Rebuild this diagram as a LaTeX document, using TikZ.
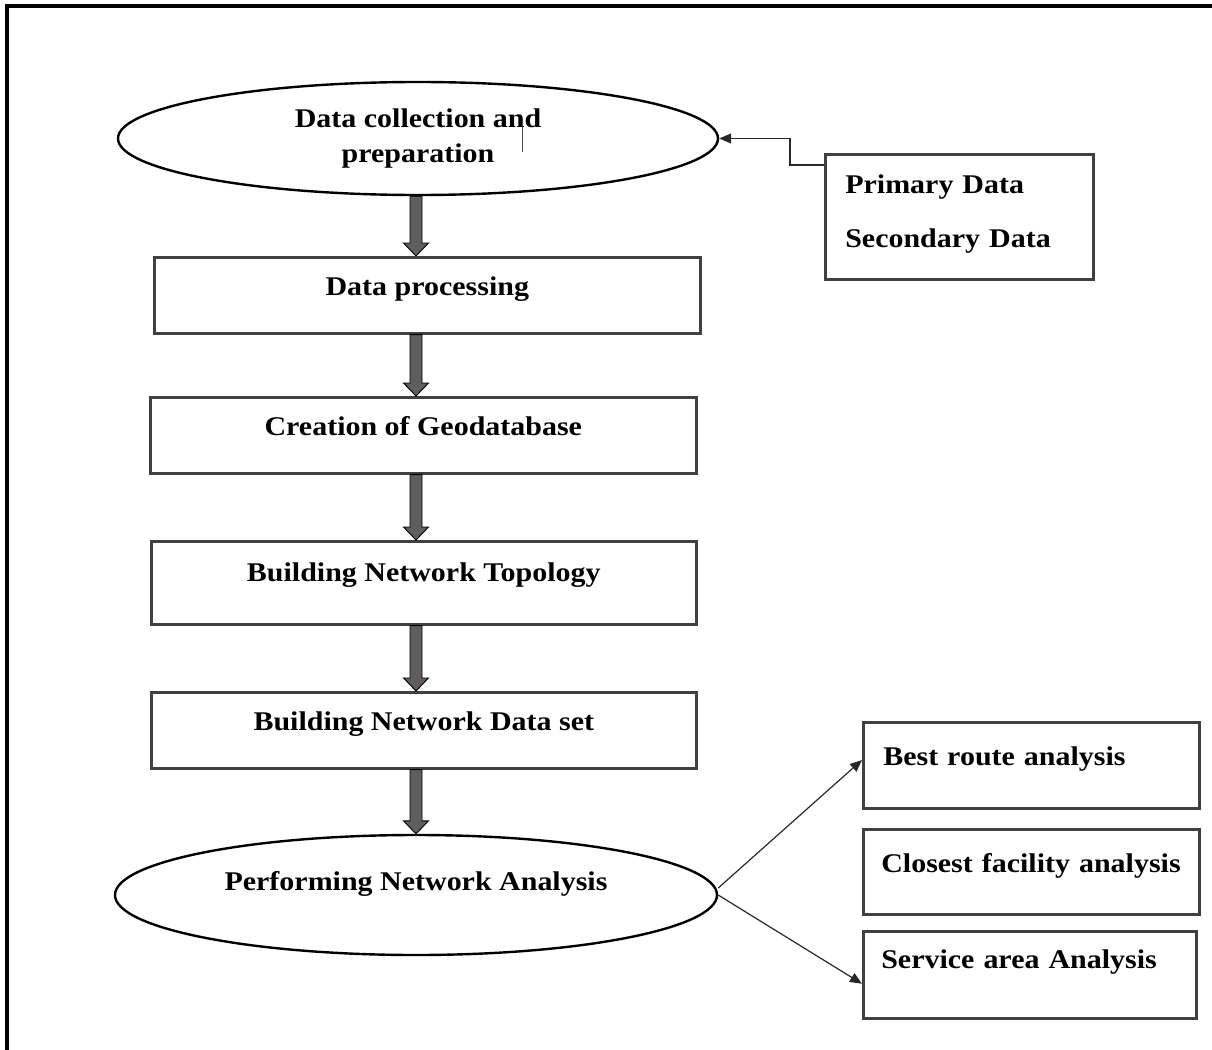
\documentclass[tikz,border=0pt]{standalone}
\usepackage{fontspec}
\setmainfont[FakeStretch=1.11]{Liberation Serif}
\usetikzlibrary{calc,arrows.meta,shapes.geometric}
\definecolor{boxgray}{RGB}{64,64,64}
\definecolor{arrowgray}{RGB}{98,93,93}
\definecolor{linegray}{RGB}{40,40,40}
\tikzset{
  lbl/.style={font=\fontsize{27}{35}\selectfont\bfseries},
  procbox/.style={rectangle, draw=boxgray, line width=2.6pt, inner xsep=0pt, inner ysep=0pt,
    anchor=north west, align=center, lbl},
  sidebox/.style={rectangle, draw=boxgray, line width=2.6pt, inner xsep=0pt, inner ysep=0pt,
    anchor=north west, align=left, lbl},
  oval/.style={ellipse, draw=black, line width=2.4pt, inner sep=0pt, align=center, lbl},
  blk/.style={fill=arrowgray, draw=black, line width=0.9pt,
    to path={let \p1=(\tikztostart), \p2=(\tikztotarget) in
      (\x1-6pt,\y1) -- (\x1+6pt,\y1) -- (\x1+6pt,\y2+13pt) -- (\x1+12.5pt,\y2+13pt)
      -- (\x1,\y2) -- (\x1-12.5pt,\y2+13pt) -- (\x1-6pt,\y2+13pt) -- cycle}},
  thinarrow/.style={draw=linegray, line width=1.2pt, -{Triangle[length=12pt,width=10pt]}}
}
\begin{document}
\begin{tikzpicture}[x=1pt,y=-1pt]
\useasboundingbox (0,0) rectangle (1212,1049);
% outer frame
\draw[line width=3.2pt] (7,1052) -- (7,6) -- (1215,6);

% main flow
\node[oval, minimum width=600pt, minimum height=113pt] (e1) at (418,138.5)
  {Data collection and\\preparation};
\draw[line width=0.8pt, gray!60!black] (522,118) -- (522,152);

\node[procbox, minimum width=546pt, text height=38pt, text depth=38pt] (b1) at (153,256) {Data processing};
\node[procbox, minimum width=546pt, text height=38pt, text depth=38pt] (b2) at (149,396) {Creation of Geodatabase};
\node[procbox, minimum width=545pt, text height=40pt, text depth=43pt] (b3) at (150,540) {Building Network Topology};
\node[procbox, minimum width=545pt, text height=38pt, text depth=38pt] (b4) at (150,691) {Building Network Data set};

\node[oval, minimum width=602pt, minimum height=120pt, text height=20pt, text depth=30pt] (e2) at (416,895)
  {Performing Network Analysis};

% side boxes
\node[sidebox, font=\fontsize{27}{54}\selectfont\bfseries, text width=268pt, text height=39pt, text depth=86pt] (pd) at (824,153)
  {\hspace*{20pt}Primary Data\\\hspace*{20pt}Secondary Data};

\node[sidebox, text width=336pt, text height=43pt, text depth=43pt] (r1) at (862,721)
  {\hspace*{20pt}Best route analysis};
\node[sidebox, text width=336pt, text height=43pt, text depth=42pt] (r2) at (862,828)
  {\hspace*{18pt}Closest facility analysis};
\node[sidebox, text width=333pt, text height=37pt, text depth=50pt] (r3) at (862,930)
  {\hspace*{18pt}Service area Analysis};

% block arrows
\draw[blk] (e2.north |- e1.south) to (b1.north);
\draw[blk] (e2.north |- b1.south) to (b2.north);
\draw[blk] (e2.north |- b2.south) to (b3.north);
\draw[blk] (e2.north |- b3.south) to (b4.north);
\draw[blk] (e2.north |- b4.south) to (e2.north);

% thin connectors
\draw[thinarrow] ([yshift=-12pt]pd.north west) -- ++(-34,0) |- (e1.east);
\draw[thinarrow] ([yshift=7pt]e2.east) -- ($(r1.north west)!0.44!(r1.south west)$);
\draw[thinarrow] (e2.east) -- ($(r3.north west)!0.6!(r3.south west)$);
\end{tikzpicture}
\end{document}
